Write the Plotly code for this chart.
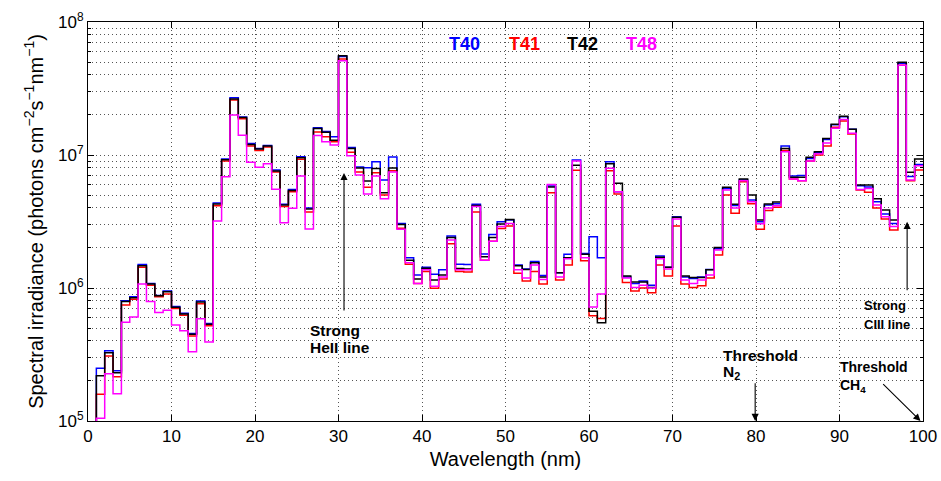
import plotly.graph_objects as go

# bin lower edges (nm); each value covers [edge, edge+1]
wavelength = list(range(0, 100))

t40 = [5e4, 2.49e5, 3.38e5, 2.39e5, 8.03e5, 8.6e5, 1.5e6, 1.08e6, 8.8e5, 9.5e5,
       7.27e5, 6.45e5, 4.55e5, 8.0e5, 5.4e5, 4.35e6, 9.35e6, 2.7e7, 1.93e7, 1.22e7,
       1.12e7, 1.18e7, 7.7e6, 4.27e6, 5.5e6, 9.7e6, 4.0e6, 1.6e7, 1.5e7, 1.37e7,
       5.5e7, 1.14e7, 8.13e6, 8.03e6, 8.9e6, 6.49e6, 9.66e6, 3.05e6, 1.69e6, 1.25e6,
       1.43e6, 1.27e6, 1.37e6, 2.46e6, 1.51e6, 1.5e6, 4.26e6, 1.8e6, 2.53e6, 3.15e6,
       3.25e6, 1.49e6, 1.39e6, 1.58e6, 1.24e6, 5.85e6, 1.3e6, 1.79e6, 9.17e6, 1.82e6,
       2.43e6, 1.69e6, 8.9e6, 5.3e6, 1.21e6, 1.08e6, 1.13e6, 1.05e6, 1.74e6, 1.43e6,
       3.44e6, 1.21e6, 1.18e6, 1.21e6, 1.38e6, 1.97e6, 5.6e6, 4.17e6, 6.5e6, 4.59e6,
       3.15e6, 4.2e6, 4.3e6, 1.17e7, 6.95e6, 7.0e6, 9.4e6, 1.05e7, 1.31e7, 1.69e7,
       1.94e7, 1.56e7, 5.88e6, 5.75e6, 4.45e6, 3.6e6, 3.06e6, 4.89e7, 6.9e6, 8.5e6]

t41 = [5e4, 1.59e5, 3.08e5, 2.15e5, 7.45e5, 8.22e5, 1.43e6, 1.05e6, 8.6e5, 9.0e5,
       7.0e5, 6.25e5, 4.35e5, 7.6e5, 5.2e5, 4.15e6, 9.0e6, 2.59e7, 1.87e7, 1.17e7,
       1.08e7, 1.15e7, 7.45e6, 4.1e6, 5.3e6, 9.3e6, 3.73e6, 1.49e7, 1.37e7, 1.26e7,
       5.27e7, 1.05e7, 7.45e6, 5.71e6, 7.36e6, 5.0e6, 7.6e6, 2.81e6, 1.51e6, 1.08e6,
       1.33e6, 9.95e5, 1.17e6, 2.15e6, 1.33e6, 1.32e6, 3.73e6, 1.62e6, 2.25e6, 2.8e6,
       2.92e6, 1.29e6, 1.13e6, 1.33e6, 1.07e6, 5.21e6, 1.15e6, 1.49e6, 7.67e6, 1.6e6,
       6.19e5, 5.9e5, 7.6e6, 5.1e6, 1.1e6, 9.5e5, 1.0e6, 9.2e5, 1.49e6, 1.23e6,
       2.93e6, 1.07e6, 1.01e6, 1.04e6, 1.19e6, 1.77e6, 5.0e6, 3.64e6, 6.3e6, 4.3e6,
       2.76e6, 3.83e6, 4.05e6, 1.08e7, 6.6e6, 6.4e6, 9.0e6, 1.0e7, 1.17e7, 1.62e7,
       1.8e7, 1.44e7, 5.45e6, 5.24e6, 3.99e6, 3.3e6, 2.73e6, 4.72e7, 6.4e6, 7.7e6]

t42 = [5e4, 2.19e5, 3.26e5, 2.31e5, 7.9e5, 8.46e5, 1.47e6, 1.07e6, 8.75e5, 9.38e5,
       7.16e5, 6.38e5, 4.49e5, 7.85e5, 5.33e5, 4.28e6, 9.22e6, 2.64e7, 1.91e7, 1.2e7,
       1.11e7, 1.17e7, 7.59e6, 4.2e6, 5.4e6, 9.55e6, 3.93e6, 1.58e7, 1.48e7, 1.29e7,
       5.58e7, 1.12e7, 7.98e6, 6.38e6, 7.9e6, 5.21e6, 8.0e6, 3.0e6, 1.62e6, 1.17e6,
       1.41e6, 1.15e6, 1.25e6, 2.4e6, 1.4e6, 1.39e6, 4.17e6, 1.72e6, 2.4e6, 3.03e6,
       3.27e6, 1.47e6, 1.38e6, 1.55e6, 1.21e6, 5.75e6, 1.3e6, 1.69e6, 8.36e6, 1.79e6,
       6.7e5, 5.48e5, 8.6e6, 6.12e6, 1.23e6, 1.11e6, 1.11e6, 1.01e6, 1.7e6, 1.43e6,
       3.4e6, 1.23e6, 1.2e6, 1.2e6, 1.37e6, 2.02e6, 5.71e6, 4.26e6, 6.6e6, 5.0e6,
       3.25e6, 4.28e6, 4.43e6, 1.12e7, 6.8e6, 6.8e6, 9.6e6, 1.06e7, 1.33e7, 1.7e7,
       1.96e7, 1.56e7, 5.95e6, 5.95e6, 4.69e6, 3.86e6, 3.25e6, 4.98e7, 7.41e6, 9.33e6]

t48 = [5e4, 1.05e5, 2.27e5, 1.6e5, 5.52e5, 6.05e5, 1.07e6, 7.9e5, 6.53e5, 6.8e5,
       5.27e5, 4.77e5, 3.32e5, 5.88e5, 3.93e5, 3.19e6, 6.87e6, 2.0e7, 1.41e7, 8.81e6,
       8.08e6, 8.6e6, 5.52e6, 3.1e6, 3.97e6, 6.95e6, 2.78e6, 1.4e7, 1.26e7, 1.19e7,
       5.12e7, 9.88e6, 7.08e6, 5.09e6, 6.95e6, 4.69e6, 7.45e6, 2.77e6, 1.55e6, 1.08e6,
       1.37e6, 1.03e6, 1.21e6, 2.3e6, 1.37e6, 1.37e6, 4.1e6, 1.62e6, 2.25e6, 2.9e6,
       3.05e6, 1.37e6, 1.19e6, 1.49e6, 1.16e6, 6.0e6, 1.21e6, 1.66e6, 9.0e6, 1.69e6,
       7.2e5, 9.0e5, 7.95e6, 5.3e6, 1.19e6, 1.01e6, 1.05e6, 1.0e6, 1.66e6, 1.39e6,
       3.3e6, 1.15e6, 1.08e6, 1.15e6, 1.25e6, 1.93e6, 5.45e6, 3.99e6, 6.4e6, 4.45e6,
       3.04e6, 4.0e6, 4.15e6, 1.06e7, 6.6e6, 6.4e6, 9.0e6, 1.02e7, 1.23e7, 1.59e7,
       1.85e7, 1.46e7, 5.5e6, 5.6e6, 4.2e6, 3.44e6, 2.9e6, 4.72e7, 6.5e6, 8.3e6]

series_names = ["T40", "T41", "T42", "T48"]
series_colors = ["#0000FF", "#FF0000", "#000000", "#FF00FF"]
series_values = [t40, t41, t42, t48]

x_ticks = [0, 10, 20, 30, 40, 50, 60, 70, 80, 90, 100]
y_ticks = [1e5, 1e6, 1e7, 1e8]
y_ticktext = ["10<sup>5</sup>", "10<sup>6</sup>", "10<sup>7</sup>", "10<sup>8</sup>"]
y_minor = [m * 10 ** e for e in (5, 6, 7) for m in range(2, 10)]

FONT = "Liberation Sans, Arial, sans-serif"

fig = go.Figure()
x_edges = wavelength + [wavelength[-1] + 1]
for name, color, vals in zip(series_names, series_colors, series_values):
    fig.add_trace(go.Scatter(
        x=x_edges, y=vals + [vals[-1]], mode="lines", name=name,
        line=dict(color=color, width=1.5, shape="hv"), showlegend=False,
    ))

GRIDCOL = "#555555"
GRIDDASH = "1px,3px"
grid = dict(showgrid=True, gridcolor=GRIDCOL, gridwidth=1, griddash=GRIDDASH)

fig.update_xaxes(
    range=[0, 100], tickvals=x_ticks, ticks="inside", ticklen=6, tickcolor="black",
    showline=True, linecolor="black", linewidth=1, mirror="ticks", automargin=False,
    tickfont=dict(family=FONT, size=17, color="black"),
    title=dict(text="Wavelength (nm)", font=dict(family=FONT, size=20, color="black"), standoff=6),
    zeroline=False, **grid,
)
fig.update_yaxes(
    type="log", range=[5, 8], tickvals=y_ticks, ticktext=y_ticktext,
    ticks="inside", ticklen=6, tickcolor="black",
    showline=True, linecolor="black", linewidth=1, mirror="ticks", automargin=False,
    tickfont=dict(family=FONT, size=17, color="black"),
    title=dict(text="Spectral irradiance (photons cm<sup>−2</sup>s<sup>−1</sup>nm<sup>−1</sup>)",
               font=dict(family=FONT, size=20, color="black"), standoff=9),
    minor=dict(tickvals=y_minor, ticks="inside", ticklen=3, tickcolor="black",
               showgrid=True, gridcolor=GRIDCOL, gridwidth=1, griddash=GRIDDASH),
    zeroline=False, **grid,
)

annotations = []
# series labels
label_x = [45.1, 52.3, 59.2, 66.3]
for name, color, lx in zip(series_names, series_colors, label_x):
    annotations.append(dict(x=lx, y=7.835, xref="x", yref="y", text=f"<b>{name}</b>",
                            showarrow=False, font=dict(family=FONT, size=18, color=color)))


def txt(x, y, s, size):
    return dict(x=x, y=y, xref="x", yref="y", text=f"<b>{s}</b>", xanchor="left",
                yanchor="middle", align="left", showarrow=False,
                font=dict(family=FONT, size=size, color="black"))


annotations += [
    txt(26.35, 5.677, "Strong", 15.5),
    txt(26.35, 5.556, "HeII line", 15.5),
    txt(75.8, 5.496, "Threshold", 15.5),
    txt(75.8, 5.365, "N<sub>2</sub>", 15.5),
    txt(89.8, 5.406, "Threshold", 14),
    txt(89.8, 5.262, "CH<sub>4</sub>", 14),
    txt(92.7, 5.872, "Strong", 13),
    txt(92.7, 5.729, "CIII line", 13),
]
arrow = dict(xref="x", yref="y", axref="x", ayref="y", text="", showarrow=True,
             arrowhead=2, arrowsize=1.3, arrowwidth=1.1, arrowcolor="black")
annotations += [
    dict(x=30.66, y=6.865, ax=30.66, ay=5.82, **arrow),
    dict(x=98.1, y=6.498, ax=98.1, ay=5.972, **arrow),
    dict(x=79.9, y=5.0, ax=79.9, ay=5.295, **arrow),
    dict(x=99.7, y=5.0, ax=95.05, ay=5.288, **arrow),
]

fig.update_layout(
    width=941, height=481, margin=dict(l=88, r=18, t=22, b=60),
    plot_bgcolor="white", paper_bgcolor="white",
    annotations=annotations, font=dict(family=FONT),
)

fig.write_html("out.html")
